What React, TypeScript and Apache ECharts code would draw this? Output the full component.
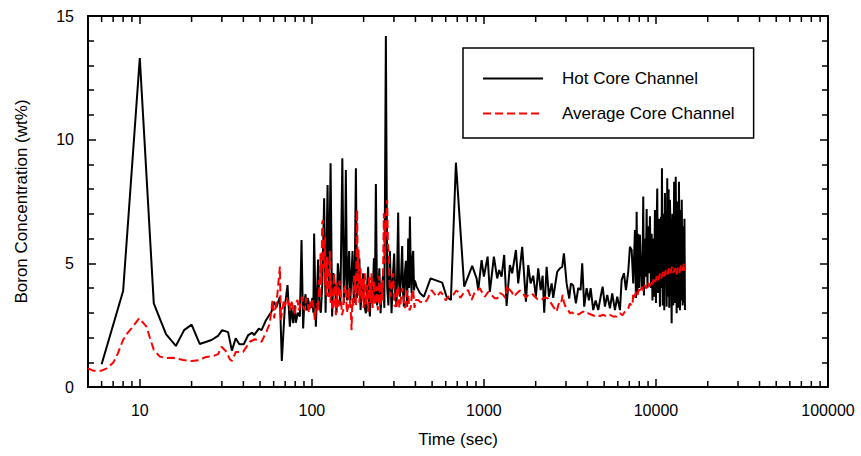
import React, { useEffect, useRef } from "react";
import * as echarts from "echarts";

// Hot core channel: time (s) and boron concentration (wt%)
const hotTime = [
  6, 8, 10, 12.06, 14.2, 16.2, 18.1, 20, 22.3, 26.1, 28.5, 30.1, 32.6, 34.3, 36.1, 37.9, 40.2, 42.7, 45, 46.2,
  49.2, 51, 54.1, 58.3, 60.1, 62.2, 65.2, 66.9, 69.7, 72.2, 74.5, 76.0, 77.9, 79.6, 80.7, 82.9, 85.2, 87.1, 89.0,
  90.4, 91.9, 93.5, 94.8, 96.7, 98.7, 100.7, 102, 103.1, 105.5, 106.9, 108.8, 110.6, 112.8, 115.1, 117.9, 120.2,
  123.4, 125.6, 128.5, 131.2, 133.4, 136.1, 139.2, 141.6, 143.5, 146.4, 150.4, 153.5, 155.6, 157.6, 160.4, 162.6,
  164.8, 167.4, 169.7, 172.4, 175.5, 177.8, 180.3, 183.2, 185.9, 188.9, 191.9, 195.3, 198.8, 201.9, 206.1, 208.8,
  212.5, 215.4, 217.4, 221.2, 225.4, 229.4, 232.4, 235.6, 239.4, 242.9, 246.8, 250.9, 255.3, 259.8, 263.9, 269.3,
  274.1, 278.5, 284.1, 290.6, 295.8, 300.9, 305.9, 310.7, 317.5, 321.4, 324.8, 330.1, 335, 339, 342.7, 347.3, 352,
  358.2, 363.1, 367.4, 371.5, 376.3, 380, 384, 388.2, 392.8, 397.1, 406.3, 424.6, 448, 489.9, 572.3, 607, 643,
  687.6, 768.4, 855, 907, 926.8, 969.8, 1000, 1051, 1083, 1143, 1195, 1227, 1267, 1312, 1355, 1416, 1460, 1535,
  1583, 1670, 1755, 1810, 1869, 1935, 2006, 2069, 2137, 2195, 2242, 2315, 2388, 2476, 2529, 2668, 2766, 2852,
  2918, 3025, 3133, 3205, 3306, 3426, 3534, 3649, 3728, 3829, 3954, 4079, 4172, 4320, 4461, 4619, 4770, 4899,
  5052, 5211, 5403, 5571, 5776, 5957, 6177, 6319, 6516, 6694, 6902, 7061, 7224, 7379, 7550, 7651, 7723, 7806,
  7890, 7965, 8072, 8258, 8346, 8437, 8515, 8630, 8725, 8830, 8925, 9021, 9106, 9229, 9352, 9441, 9543, 9645,
  9737, 9867, 10000, 10067, 10176, 10271, 10409, 10551, 10693, 10765, 10837, 10953, 11086, 11176, 11279, 11355,
  11431, 11539, 11632, 11742, 11851, 11947, 12060, 12189, 12337, 12469, 12604, 12756, 12893, 13031, 13188, 13335,
  13479, 13606, 13788, 13880, 13973, 14125, 14295, 14411, 14548, 14645, 14744,
];
const hotBoron = [
  0.92, 3.88, 13.3, 3.38, 2.14, 1.66, 2.3, 2.52, 1.74, 1.9, 2.07, 2.3, 2.22, 1.47, 1.97, 1.73, 1.73, 2.1, 2.2, 2.1,
  2.36, 2.3, 2.7, 3.05, 3.45, 3.22, 3.65, 1.05, 3.25, 4.12, 2.44, 3.2, 2.58, 3.3, 2.6, 3.0, 2.85, 5.94, 2.37,
  3.4, 3.75, 3.1, 3.6, 3.3, 3.2, 3.6, 3.0, 6.21, 2.44, 3.5, 5.15, 3.3, 3.0, 4.2, 7.63, 3.0,
  8.17, 3.65, 9.05, 2.85, 4.6, 4.1, 3.0, 5.0, 4.5, 3.3, 9.25, 3.4, 4.5, 8.77, 3.5, 4.8,
  5.5, 3.5, 4.4, 5.5, 3.4, 4.8, 8.84, 3.6, 4.06, 5.2, 3.11, 4.0, 4.6, 3.3, 2.98, 3.9,
  4.86, 3.3, 2.85, 4.2, 3.38, 5.2, 3.6, 8.21, 3.3, 3.65, 4.8, 2.98, 4.0, 4.6, 3.2, 14.19,
  4.06, 3.3, 5.5, 2.98, 4.5, 5.4, 3.6, 3.25, 7.05, 4.2, 3.65, 4.5, 5.7, 3.8, 3.25, 4.6, 5.1,
  3.25, 6.0, 4.0, 6.89, 4.5, 3.8, 5.2, 5.5, 3.9, 4.3, 4.06, 3.8, 3.65, 4.39, 4.22, 3.65, 3.52,
  9.07, 4.06, 4.9, 4.39, 3.92, 5.13, 4.46, 5.27, 3.85, 5.27, 4.39, 4.73, 4.46, 5.34, 3.28, 4.93, 4.6, 5.54,
  4.19, 5.67, 3.45, 4.93, 4.19, 4.5, 3.65, 4.8, 3.92, 4.5, 3.0, 4.86, 3.65, 4.19, 3.6, 4.66, 4.8, 4.86,
  5.4, 4.19, 3.58, 4.19, 4.1, 3.38, 4.0, 3.92, 5.0, 3.25, 4.0, 3.5, 4.0, 3.11, 3.5, 3.11, 3.65, 4.06,
  3.25, 3.72, 3.18, 3.78, 3.11, 3.65, 3.11, 4.33, 4.6, 3.92, 4.66, 5.67, 5.54, 4.19, 6.35, 3.6, 7.09, 3.8,
  6.2, 4.0, 6.15, 3.92, 4.4, 7.7, 3.7, 6.0, 4.46, 7.2, 4.0, 6.5, 4.6, 6.9, 4.0, 6.2, 3.5, 6.0,
  3.65, 7.16, 3.4, 6.0, 8.03, 3.8, 6.8, 3.25, 6.88, 4.0, 8.84, 3.3, 7.0, 3.1, 7.84, 4.5,
  6.5, 3.25, 8.44, 3.65, 8.0, 3.2, 7.57, 6.0, 2.58, 7.0, 3.3, 8.3, 3.4, 8.5, 2.98, 7.5,
  3.2, 8.3, 3.1, 7.16, 3.5, 7.57, 3.3, 6.5, 3.4, 6.8, 3.11,
];

// Average core channel: time (s) and boron concentration (wt%)
const avgTime = [
  5, 5.35, 5.99, 6.43, 7.0, 7.45, 7.99, 8.52, 8.95, 9.91, 10.94, 11.43, 12.06, 13.07, 14.17, 15.62, 17.85, 19.98,
  22.33, 23.88, 26.69, 28.53, 29.85, 31.92, 33.37, 34.27, 36.15, 39.87, 43.6, 46.64, 51.0, 54.53, 57.0, 59.1,
  60.37, 62.85, 65.2, 66.04, 68.74, 69.7, 71.3, 72.8, 74.5, 75.5, 76.8, 78.3, 79.6, 81.0, 82.6, 84.0, 85.2, 86.5,
  87.8, 89.5, 91.1, 92.7, 94.4, 96.1, 97.4, 98.9, 100.4, 102.3, 104.1, 105.8, 107.4, 108.8, 110.3, 111.3, 112.3,
  113.6, 114.8, 115.9, 117, 117.9, 119, 119.8, 120.6, 121.4, 122.2, 124.4, 125.9, 127.2, 128.5, 129.5, 131.1, 133,
  134.8, 136.6, 137.9, 139.2, 140.7, 142.2, 144.5, 147.4, 149.4, 152.1, 154.5, 157.6, 159.7, 162.6, 164.8, 166.3,
  168.5, 170.2, 172, 173.8, 175.9, 177.8, 180.3, 181.9, 183.4, 185.1, 186.9, 188.9, 191.9, 194, 197.2, 199.8,
  203.3, 206.1, 209.7, 212.5, 215.4, 218.9, 222.4, 225.7, 229.4, 233.3, 237.8, 242, 246.2, 250.2, 254.2, 258,
  262.2, 265, 267.5, 269.3, 271.9, 274.1, 276.7, 280.4, 283.4, 286.9, 291.9, 297, 301.8, 307.8, 312, 317.5,
  322.6, 327.9, 333.7, 339.5, 345.9, 352, 357.7, 363.1, 369.8, 376.3, 382.4, 388.2, 395.4, 402.5, 415, 424.6,
  453.9, 470, 496.4, 530.9, 560, 580, 600, 620, 663, 690, 709, 730, 758, 810, 848, 870, 886.6, 948, 980, 1013,
  1060, 1109, 1150, 1195, 1240, 1295, 1330, 1366, 1400, 1449, 1500, 1549, 1620, 1692, 1750, 1810, 1900, 1979,
  2050, 2165, 2250, 2365, 2450, 2529, 2647, 2704, 2766, 2822, 2868, 2918, 2958, 3018, 3091, 3162, 3248, 3337,
  3459, 3567, 3664, 3779, 3917, 4041, 4228, 4362, 4521, 4725, 4939, 5154, 5403, 5623, 5908, 6177, 6387, 6603,
  6902, 7061, 7204, 7320, 7379, 7499, 7651, 7806, 7965, 8126, 8290, 8458, 8630, 8805, 8983, 9165, 9352, 9543,
  9737, 9933, 10134, 10339, 10551, 10765, 10983, 11205, 11431, 11667, 11900, 12143, 12388, 12638, 12893, 13154,
  13422, 13697, 13973, 14259, 14548, 14744,
];
const avgBoron = [
  0.75, 0.66, 0.66, 0.75, 0.98, 1.35, 1.9, 2.2, 2.37, 2.78, 2.44, 2.0, 1.5, 1.23, 1.17, 1.18, 1.09, 1.05,
  1.09, 1.2, 1.25, 1.33, 1.63, 1.42, 1.12, 1.05, 1.42, 1.42, 1.83, 1.93, 1.83, 2.24, 2.58, 3.52,
  2.78, 3.65, 4.87, 2.7, 3.5, 3.25, 3.6, 3.45, 3.1, 3.5, 3.38, 3.0, 2.98, 3.4, 3.52, 3.1, 3.25, 3.5,
  3.65, 3.2, 3.1, 3.6, 3.45, 3.0, 3.25, 3.55, 3.52, 3.2, 2.71, 3.3, 3.38, 3.05, 4.33, 3.6, 5.4,
  4.2, 6.62, 6.75, 4.8, 5.6, 6.08, 4.1, 5.0, 3.7, 5.3, 3.65, 4.8, 5.5, 3.4, 4.3, 3.2, 3.1,
  4.6, 3.65, 2.9, 4.2, 3.5, 3.25, 4.3, 3.8, 2.9, 3.1, 4.0, 4.1, 3.0, 3.25, 4.0, 3.52,
  3.0, 2.3, 3.6, 3.25, 4.5, 4.3, 3.3, 5.5, 7.16, 4.0, 5.6, 3.4, 4.8, 3.5, 4.4, 3.2,
  4.6, 3.3, 4.12, 3.0, 4.5, 3.4, 4.6, 3.2, 4.3, 3.3, 4.06, 3.1, 4.5, 3.3, 4.19, 3.5,
  7.02, 5.0, 6.5, 6.1, 7.3, 7.56, 5.8, 5.4, 4.0, 3.65, 4.2, 4.6, 3.3, 3.25, 4.0, 4.06,
  3.2, 3.4, 4.0, 3.8, 3.2, 3.25, 3.9, 3.8, 3.1, 3.25, 3.9, 3.9, 3.2, 3.52, 3.52, 3.45,
  3.4, 3.55, 3.92, 3.65, 3.85, 3.72, 3.5, 3.65, 3.72, 3.9, 3.85, 3.6, 3.78, 3.92, 3.52, 3.7, 3.85, 3.99, 3.8, 3.65,
  3.85, 3.72, 3.6, 3.58, 3.8, 3.72, 3.6, 4.12, 3.95, 3.85, 3.65, 3.78, 3.9, 3.78, 3.62, 3.72, 3.78, 3.65,
  3.55, 3.52, 3.62, 3.58, 3.4, 3.25, 3.05, 3.3, 3.5, 3.45, 3.72, 3.45, 3.3, 3.2, 3.11, 2.98, 3.02, 2.95,
  2.98, 2.93, 3.0, 3.05, 2.96, 2.98, 2.92, 2.88, 2.92, 2.87, 2.92, 2.86, 2.92, 2.85, 2.85, 2.98, 2.9, 3.05,
  3.18, 3.38, 3.28, 3.4, 3.79, 3.62, 3.85, 3.7, 3.95, 3.82, 4.05, 3.88, 4.12, 3.98, 4.22, 4.05, 4.3, 4.15,
  4.42, 4.25, 4.5, 4.32, 4.6, 4.4, 4.68, 4.48, 4.75, 4.55, 4.8, 4.6, 4.85, 4.62, 4.8, 4.55,
  4.82, 4.62, 4.9, 4.7, 5.0, 4.7,
];

const seriesNames = ["Hot Core Channel", "Average Core Channel"];
const xMin = 5;
const xMax = 100000;
const yMin = 0;
const yMax = 15;
const yInterval = 5;
const xMinorTicks = [
  6, 7, 8, 9, 20, 30, 40, 50, 60, 70, 80, 90, 200, 300, 400, 500, 600, 700, 800, 900,
  2000, 3000, 4000, 5000, 6000, 7000, 8000, 9000, 20000, 30000, 40000, 50000, 60000, 70000, 80000, 90000,
];

const FONT = "'Liberation Sans', Arial, Helvetica, sans-serif";

export default function App() {
  const ref = useRef<HTMLDivElement>(null);

  useEffect(() => {
    if (!ref.current) return;
    const chart = echarts.init(ref.current, null, { renderer: "svg" });
    const hot = hotTime.map((t, i) => [t, hotBoron[i]]);
    const avg = avgTime.map((t, i) => [t, avgBoron[i]]);
    const axisLine = { show: true, onZero: false, lineStyle: { color: "#000", width: 2 } };
    const tickStyle = { color: "#000", width: 1.5 };

    chart.setOption({
      animation: false,
      grid: { left: 88, right: 33, top: 16, bottom: 69, containLabel: false },
      legend: {
        data: seriesNames,
        orient: "vertical",
        left: 463,
        top: 48,
        padding: [22, 19, 16, 19],
        itemGap: 18,
        itemWidth: 60,
        itemHeight: 14,
        borderColor: "#000",
        borderWidth: 1.5,
        borderRadius: 0,
        itemStyle: { opacity: 0, color: "rgba(0,0,0,0)", borderColor: "rgba(0,0,0,0)", borderWidth: 0 },
        textStyle: { fontSize: 17, fontFamily: FONT, color: "#000", padding: [0, 0, 0, 14] },
      },
      xAxis: [
        {
          type: "log",
          logBase: 10,
          min: xMin,
          max: xMax,
          position: "bottom",
          axisLine,
          axisTick: { show: true, inside: true, length: 8, lineStyle: tickStyle },
          axisLabel: {
            color: "#000",
            fontSize: 16,
            fontFamily: FONT,
            margin: 15,
            showMinLabel: false,
            formatter: (v: number) => String(Math.round(v)),
          },
          splitLine: { show: false },
          name: "Time (sec)",
          nameLocation: "middle",
          nameGap: 44,
          nameTextStyle: { fontSize: 17, fontFamily: FONT, color: "#000" },
        },
        {
          type: "log",
          logBase: 10,
          min: xMin,
          max: xMax,
          position: "top",
          axisLine,
          axisTick: { show: true, inside: true, length: 8, lineStyle: tickStyle },
          axisLabel: { show: false },
          splitLine: { show: false },
        },
      ],
      yAxis: [
        {
          type: "value",
          min: yMin,
          max: yMax,
          interval: yInterval,
          position: "left",
          axisLine,
          axisTick: { show: true, inside: true, length: 8, lineStyle: tickStyle },
          minorTick: { show: true, splitNumber: 5, length: 6, lineStyle: tickStyle },
          axisLabel: { color: "#000", fontSize: 16, fontFamily: FONT, margin: 14 },
          splitLine: { show: false },
          minorSplitLine: { show: false },
          name: "Boron Concentration (wt%)",
          nameLocation: "middle",
          nameRotate: 90,
          nameGap: 58,
          nameTextStyle: { fontSize: 17, fontFamily: FONT, color: "#000" },
        },
        {
          type: "value",
          min: yMin,
          max: yMax,
          interval: yInterval,
          position: "right",
          axisLine,
          axisTick: { show: true, inside: true, length: 8, lineStyle: tickStyle },
          minorTick: { show: true, splitNumber: 5, length: 6, lineStyle: tickStyle },
          axisLabel: { show: false },
          splitLine: { show: false },
          minorSplitLine: { show: false },
        },
      ],
      series: [
        {
          name: seriesNames[0],
          type: "line",
          xAxisIndex: 0,
          yAxisIndex: 0,
          data: hot,
          symbol: "none",
          showSymbol: false,
          lineStyle: { color: "#000", width: 2 },
          itemStyle: { color: "#000" },
          z: 3,
        },
        {
          name: seriesNames[1],
          type: "line",
          xAxisIndex: 0,
          yAxisIndex: 0,
          data: avg,
          symbol: "none",
          showSymbol: false,
          lineStyle: { color: "#ff0000", width: 2, type: [8, 4] },
          itemStyle: { color: "#ff0000" },
          z: 4,
        },
        {
          type: "custom",
          name: "xMinorTicks",
          xAxisIndex: 0,
          yAxisIndex: 0,
          silent: true,
          clip: false,
          z: 6,
          data: xMinorTicks.map((v) => [v, yMin]),
          encode: { x: 0, y: 1 },
          renderItem: (_params: any, api: any) => {
            const v = api.value(0);
            const b = api.coord([v, yMin]);
            const t = api.coord([v, yMax]);
            const st = { stroke: "#000", lineWidth: 1.5 };
            return {
              type: "group",
              children: [
                { type: "line", shape: { x1: b[0], y1: b[1], x2: b[0], y2: b[1] - 6 }, style: st },
                { type: "line", shape: { x1: t[0], y1: t[1], x2: t[0], y2: t[1] + 6 }, style: st },
              ],
            };
          },
        },
      ],
    });
    return () => chart.dispose();
  }, []);

  return (
    <div
      ref={ref}
      style={{ position: "fixed", left: 0, top: 0, width: 861, height: 456, background: "#fff" }}
    />
  );
}
